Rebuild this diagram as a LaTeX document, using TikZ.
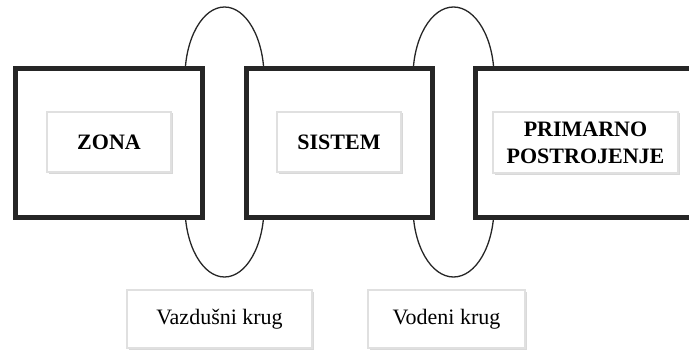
\documentclass[tikz,border=0pt]{standalone}
\usepackage{fontspec}
\setmainfont{Liberation Serif}
\usetikzlibrary{shadows,positioning}

\tikzset{
  petlja/.style={draw=black!85,line width=1.3pt},
  okvir/.style={draw=black!85,line width=5pt,fill=white,inner sep=0pt,
    drop shadow={shadow xshift=1.5pt,shadow yshift=-1.5pt,opacity=0.25}},
  naziv/.style={draw=black!12,line width=1.5pt,fill=white,inner sep=0pt,align=center,
    font=\fontsize{22}{27}\selectfont\bfseries,
    drop shadow={shadow xshift=1.5pt,shadow yshift=-1.5pt,opacity=0.3}},
  krug/.style={naziv,font=\fontsize{22}{27}\selectfont}
}

\begin{document}
\begin{tikzpicture}[x=1pt,y=-1pt]
  \useasboundingbox (0,0) rectangle (689,353);
  \clip (0,0) rectangle (689,353);

  % petlje iza okvira
  \draw[petlja] (185,77) arc[start angle=180,end angle=360,x radius=39.5,y radius=70]
    -- (264,207) arc[start angle=0,end angle=180,x radius=39.5,y radius=70] -- cycle;
  \draw[petlja] (413,77) arc[start angle=180,end angle=360,x radius=40.5,y radius=70]
    -- (494,207) arc[start angle=0,end angle=180,x radius=40.5,y radius=70] -- cycle;

  % veliki okviri
  \node[okvir,minimum width=187pt,minimum height=148pt] (zona) at (108.5,143) {};
  \node[okvir,minimum width=186pt,minimum height=148pt] (sistem) at (339,143) {};
  \node[okvir,minimum width=240pt,minimum height=148pt] (primar) at (595,143) {};

  % nazivi
  \node[naziv,minimum width=124pt,minimum height=60pt] (zonaT) at (109,142) {ZONA};
  \node[naziv,minimum width=124pt,minimum height=60pt] (sistemT) at (339,142) {SISTEM};
  \node[naziv,minimum width=185pt,minimum height=61pt] (primarT) at (585.5,142.5)
    {PRIMARNO\\POSTROJENJE};

  % krugovi
  \node[krug,minimum width=185pt,minimum height=58pt] (vazduhT) at (219.5,319) {Vazdušni krug};
  \node[krug,minimum width=157pt,minimum height=58pt] (vodaT) at (446.5,319) {Vodeni krug};

\end{tikzpicture}
\end{document}
